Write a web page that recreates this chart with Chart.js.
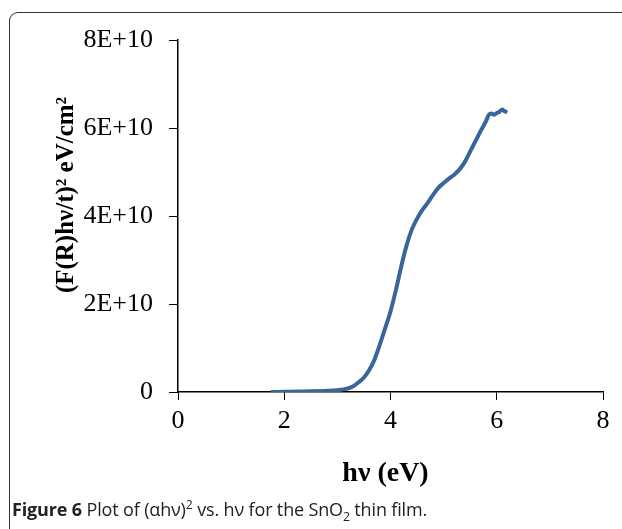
<!DOCTYPE html>
<html>
<head>
<meta charset="utf-8">
<script src="https://cdn.jsdelivr.net/npm/chart.js@4.4.1/dist/chart.umd.min.js"></script>
<style>
  html, body { margin: 0; padding: 0; background: #fff; }
  body { width: 622px; height: 529px; position: relative; overflow: hidden; }
  #frame { position: absolute; left: 9px; top: 12px; width: 640px; height: 560px;
           border-top: 1.5px solid #333; border-left: 1.5px solid #333; border-top-left-radius: 9px; }
  #wrap { position: absolute; left: 0; top: 0; width: 622px; height: 529px; }
  #caption { position: absolute; left: 12px; top: 497px; font-family: "Open Sans", sans-serif;
             font-size: 18px; color: #222; white-space: nowrap; letter-spacing: -0.15px; }
  #caption b { font-weight: 700; }
  sup, sub { font-size: 68%; line-height: 0; }
</style>
</head>
<body>
<div id="frame"></div>
<div id="wrap"><canvas id="c" width="622" height="529"></canvas></div>
<div id="caption"><b>Figure 6</b> Plot of (αhν)<sup>2</sup> vs. hν for the SnO<sub>2</sub> thin film.</div>
<script>
// Photon energy hν (eV)
const hv = [1.75, 2.0, 2.25, 2.5, 2.75, 3.0, 3.1, 3.2, 3.3, 3.4, 3.5, 3.6, 3.7, 3.8, 3.9,
            4.0, 4.1, 4.2, 4.3, 4.4, 4.5, 4.6, 4.7, 4.8, 4.9, 5.0, 5.1, 5.2, 5.3, 5.4,
            5.5, 5.6, 5.7, 5.8, 5.85, 5.9, 5.95, 6.0, 6.05, 6.1, 6.15, 6.2];
// (F(R)hν/t)^2 in eV/cm^2
const kmValues = [0.0e10, 0.005e10, 0.01e10, 0.015e10, 0.025e10, 0.04e10, 0.06e10, 0.08e10, 0.13e10, 0.22e10,
                  0.33e10, 0.50e10, 0.74e10, 1.08e10, 1.45e10, 1.83e10, 2.31e10, 2.84e10, 3.32e10, 3.69e10,
                  3.94e10, 4.14e10, 4.30e10, 4.48e10, 4.64e10, 4.75e10, 4.85e10, 4.94e10, 5.06e10, 5.23e10,
                  5.47e10, 5.70e10, 5.94e10, 6.16e10, 6.30e10, 6.33e10, 6.30e10, 6.34e10, 6.37e10, 6.42e10,
                  6.38e10, 6.36e10];
const xTicks = [0, 2, 4, 6, 8];
const yTicks = [0, 2e10, 4e10, 6e10, 8e10];
const xTitle = 'hν (eV)';
const yTitle = '(F(R)hν/t)² eV/cm²';

const points = hv.map((x, i) => ({ x: x, y: kmValues[i] }));

const titlesPlugin = {
  id: 'titles',
  afterDraw(chart) {
    const ctx = chart.ctx, a = chart.chartArea;
    ctx.save();
    ctx.fillStyle = '#000';
    ctx.font = 'bold 28px "Liberation Serif", "Times New Roman", serif';
    ctx.textAlign = 'center';
    ctx.textBaseline = 'alphabetic';
    ctx.fillText(xTitle, (a.left + a.right) / 2 - 5, 481);
    ctx.translate(73, 195);
    ctx.rotate(-Math.PI / 2);
    ctx.font = 'bold 25px "Liberation Serif", "Times New Roman", serif';
    ctx.fillText(yTitle, 0, 0);
    ctx.restore();
  }
};

new Chart(document.getElementById('c'), {
  type: 'line',
  data: {
    datasets: [{
      data: points,
      borderColor: '#3a659a',
      borderWidth: 4,
      pointRadius: 0,
      fill: false,
      tension: 0.3,
      cubicInterpolationMode: 'monotone'
    }]
  },
  options: {
    responsive: false,
    animation: false,
    events: [],
    layout: { padding: { top: 40, right: 19, left: 0, bottom: 0 } },
    plugins: { legend: { display: false }, tooltip: { enabled: false } },
    scales: {
      x: {
        type: 'linear', min: 0, max: 8,
        afterBuildTicks(s) { s.ticks = xTicks.map(v => ({ value: v })); },
        afterFit(s) { s.height = 137; },
        grid: { display: true, drawOnChartArea: false, drawTicks: true, tickLength: 8, color: '#000', lineWidth: 1 },
        border: { display: true, color: '#000', width: 1.5 },
        ticks: { color: '#000', padding: 6, maxRotation: 0,
                 font: { family: '"Liberation Serif", "Times New Roman", serif', size: 26 } }
      },
      y: {
        type: 'linear', min: 0, max: 8e10,
        afterBuildTicks(s) { s.ticks = yTicks.map(v => ({ value: v })); },
        afterFit(s) { s.width = 178; },
        grid: { display: true, drawOnChartArea: false, drawTicks: true, tickLength: 9, color: '#000', lineWidth: 1 },
        border: { display: true, color: '#000', width: 1.5 },
        ticks: { color: '#000', padding: 16,
                 font: { family: '"Liberation Serif", "Times New Roman", serif', size: 26 },
                 callback: v => v === 0 ? '0' : (v / 1e10) + 'E+10' }
      }
    }
  },
  plugins: [titlesPlugin]
});
</script>
</body>
</html>
